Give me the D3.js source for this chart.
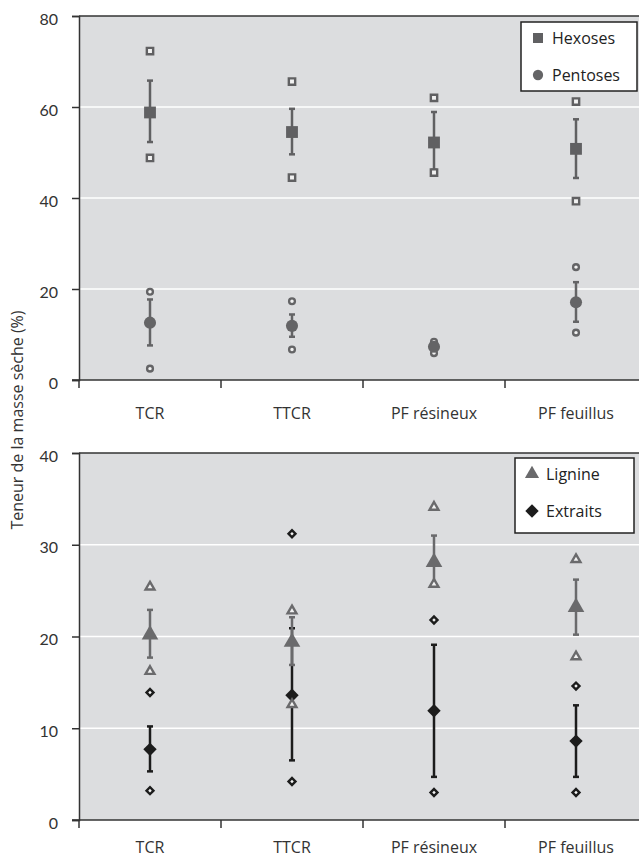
<!DOCTYPE html>
<meta charset="utf-8">
<style>
  body { margin: 0; background: #fff; }
  svg { display: block; font-family: "Open Sans", sans-serif; }
  .grid line { stroke: #fff; stroke-width: 1.5px; }
  .frame { stroke: #333; stroke-width: 1.5px; fill: none; }
</style>
<svg width="639" height="857"></svg>
<script src="https://d3js.org/d3.v7.min.js"></script>
<script>
  var categories = ["TCR", "TTCR", "PF résineux", "PF feuillus"];

  // top panel: sugars
  var hexMean = [58.8, 54.5, 52.2, 50.8];
  var hexLo = [52.3, 49.6, 46.2, 44.4];
  var hexHi = [65.8, 59.6, 58.9, 57.3];
  var hexMin = [48.8, 44.5, 45.6, 39.3];
  var hexMax = [72.3, 65.6, 62.0, 61.2];

  var pentMean = [12.6, 11.9, 7.3, 17.1];
  var pentLo = [7.6, 9.5, 6.7, 12.8];
  var pentHi = [17.7, 14.4, 8.0, 21.5];
  var pentMin = [2.5, 6.7, 5.9, 10.4];
  var pentMax = [19.4, 17.3, 8.4, 24.8];

  // bottom panel: lignin and extractives
  var ligMean = [20.2, 19.4, 28.1, 23.2];
  var ligLo = [17.7, 16.9, 25.6, 20.2];
  var ligHi = [22.9, 22.1, 31.0, 26.2];
  var ligMin = [16.2, 12.6, 25.7, 17.8];
  var ligMax = [25.4, 22.8, 34.1, 28.4];

  var extMean = [7.7, 13.6, 11.9, 8.6];
  var extLo = [5.3, 6.5, 4.7, 4.7];
  var extHi = [10.2, 20.9, 19.1, 12.5];
  var extMin = [3.2, 4.2, 3.0, 3.0];
  var extMax = [13.9, 31.2, 21.8, 14.6];

  var topTicks = [0, 20, 40, 60, 80];
  var bottomTicks = [0, 10, 20, 30, 40];

  var svg = d3.select("svg");
  var left = 79, right = 647;

  var x = d3.scaleBand().domain(categories).range([left, right]);

  function series(name, mean, lo, hi, mn, mx, color, shape) {
    return { name: name, mean: mean, lo: lo, hi: hi, min: mn, max: mx, color: color, shape: shape };
  }

  var topSeries = [
    series("Hexoses", hexMean, hexLo, hexHi, hexMin, hexMax, "#606062", "square"),
    series("Pentoses", pentMean, pentLo, pentHi, pentMin, pentMax, "#646466", "circle")
  ];
  var bottomSeries = [
    series("Extraits", extMean, extLo, extHi, extMin, extMax, "#1c1c1c", "diamond"),
    series("Lignine", ligMean, ligLo, ligHi, ligMin, ligMax, "#6a6a6c", "triangle")
  ];

  function symbolPath(shape, big) {
    var type = shape == "square" || shape == "diamond" ? d3.symbolSquare
      : shape == "circle" ? d3.symbolCircle : d3.symbolTriangle;
    var size;
    if (big) size = shape == "square" ? 140 : shape == "circle" ? 115 : shape == "triangle" ? 120 : 90;
    else size = shape == "square" ? 40 : shape == "circle" ? 26 : shape == "triangle" ? 34 : 24;
    return d3.symbol().type(type).size(size)();
  }

  function panel(top, bottom, maxV, ticks, list, legendOrder, legendBox, labelY) {
    var y = d3.scaleLinear().domain([0, maxV]).range([bottom, top]);
    var g = svg.append("g");

    g.append("rect")
      .attr("x", left).attr("y", top)
      .attr("width", right - left).attr("height", bottom - top)
      .attr("fill", "#dcdddf");

    g.append("g").attr("class", "grid")
      .selectAll("line")
      .data(ticks.slice(1, -1))
      .enter().append("line")
      .attr("x1", left).attr("x2", right)
      .attr("y1", function(d) { return y(d); })
      .attr("y2", function(d) { return y(d); });

    // top border
    g.append("line").attr("class", "frame")
      .attr("x1", left).attr("x2", right)
      .attr("y1", top).attr("y2", top);

    var yAxis = g.append("g")
      .attr("transform", "translate(" + left + ",0)")
      .call(d3.axisLeft(y).tickValues(ticks).tickSize(7).tickPadding(14));
    yAxis.select(".domain").attr("stroke", "#333").attr("stroke-width", 1.5);
    yAxis.selectAll(".tick line").attr("stroke", "#333").attr("stroke-width", 1.5);
    yAxis.selectAll(".tick text")
      .attr("dy", "0.5em")
      .attr("font-size", 16)
      .attr("font-family", "Lato, 'Open Sans', sans-serif")
      .attr("fill", "#333");

    // x axis with ticks at band edges
    g.append("line").attr("class", "frame")
      .attr("x1", left - 7).attr("x2", right)
      .attr("y1", bottom).attr("y2", bottom);
    g.append("g").selectAll("line")
      .data(categories)
      .enter().append("line")
      .attr("class", "frame")
      .attr("x1", function(d) { return x(d); })
      .attr("x2", function(d) { return x(d); })
      .attr("y1", bottom).attr("y2", bottom + 8);

    g.append("g").selectAll("text")
      .data(categories)
      .enter().append("text")
      .attr("x", function(d) { return x(d) + x.bandwidth() / 2; })
      .attr("y", labelY)
      .attr("text-anchor", "middle")
      .attr("font-size", 16)
      .attr("fill", "#333")
      .text(function(d) { return d; });

    list.forEach(function(s) {
      var sg = g.append("g");
      var cx = function(i) { return x(categories[i]) + x.bandwidth() / 2; };
      var idx = d3.range(categories.length);

      sg.selectAll("line.err")
        .data(idx)
        .enter().append("line")
        .attr("x1", cx).attr("x2", cx)
        .attr("y1", function(i) { return y(s.lo[i]); })
        .attr("y2", function(i) { return y(s.hi[i]); })
        .attr("stroke", s.color).attr("stroke-width", 2.5);

      [s.lo, s.hi].forEach(function(arr) {
        sg.selectAll(null)
          .data(idx)
          .enter().append("line")
          .attr("x1", function(i) { return cx(i) - 3; })
          .attr("x2", function(i) { return cx(i) + 3; })
          .attr("y1", function(i) { return y(arr[i]); })
          .attr("y2", function(i) { return y(arr[i]); })
          .attr("stroke", s.color).attr("stroke-width", 2.5);
      });

      [s.min, s.max].forEach(function(arr) {
        sg.selectAll(null)
          .data(idx)
          .enter().append("path")
          .attr("d", symbolPath(s.shape, false))
          .attr("transform", function(i) {
            return "translate(" + cx(i) + "," + y(arr[i]) + ")" + (s.shape == "diamond" ? " rotate(45)" : "");
          })
          .attr("fill", "#f2f2f2")
          .attr("stroke", s.color).attr("stroke-width", 2.4);
      });

      sg.selectAll(null)
        .data(idx)
        .enter().append("path")
        .attr("d", symbolPath(s.shape, true))
        .attr("transform", function(i) {
          return "translate(" + cx(i) + "," + y(s.mean[i]) + ")" + (s.shape == "diamond" ? " rotate(45)" : "");
        })
        .attr("fill", s.color);
    });

    // legend
    var lg = g.append("g");
    lg.append("rect")
      .attr("x", legendBox[0]).attr("y", legendBox[1])
      .attr("width", legendBox[2]).attr("height", legendBox[3])
      .attr("fill", "#fff").attr("stroke", "#222").attr("stroke-width", 1.5);
    legendOrder.forEach(function(s, k) {
      var ly = legendBox[1] + 16 + k * 37;
      lg.append("path")
        .attr("d", symbolPath(s.shape, true))
        .attr("transform", "translate(" + (legendBox[0] + 17) + "," + ly + ")" + (s.shape == "diamond" ? " rotate(45)" : " scale(0.85)"))
        .attr("fill", s.color);
      lg.append("text")
        .attr("x", legendBox[0] + 31)
        .attr("y", ly + 6)
        .attr("font-size", 16)
        .attr("fill", "#222")
        .text(s.name);
    });
  }

  panel(16, 380, 80, topTicks, topSeries, topSeries, [521, 22, 116, 69], 419);
  panel(453, 820, 40, bottomTicks, bottomSeries, [bottomSeries[1], bottomSeries[0]], [515, 458, 119, 75], 853);

  svg.append("text")
    .attr("transform", "translate(23,420) rotate(-90)")
    .attr("text-anchor", "middle")
    .attr("font-size", 16)
    .attr("fill", "#333")
    .text("Teneur de la masse sèche (%)");
</script>
